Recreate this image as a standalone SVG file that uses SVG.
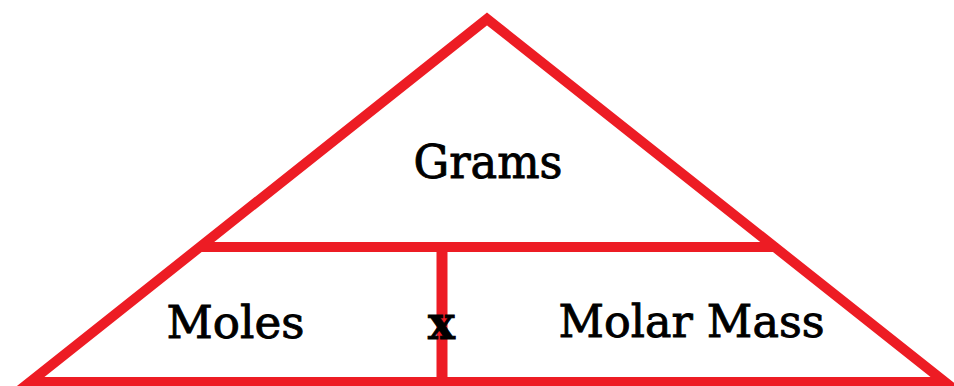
<svg xmlns="http://www.w3.org/2000/svg" width="954" height="386" viewBox="0 0 954 386">
<style>
.ln{stroke:#ED1C24;stroke-width:10;fill:none;stroke-linejoin:miter;stroke-miterlimit:20}
.t{font-family:"DejaVu Serif","Liberation Serif",serif;fill:#000;stroke:#000;stroke-width:0.9;text-anchor:middle}
</style>
<rect width="954" height="386" fill="#fff"/>
<g id="connectors">
<polygon class="ln" points="487,19 30,382 945,382"/>
<line class="ln" x1="200" y1="247" x2="775" y2="247"/>
<line class="ln" x1="442" y1="247" x2="442" y2="382" style="stroke-width:11"/>
</g>
<g id="grams"><text class="t" x="488" y="178" font-size="46" textLength="149" lengthAdjust="spacingAndGlyphs">Grams</text></g>
<g id="moles"><text class="t" x="235.5" y="338" font-size="45" textLength="138" lengthAdjust="spacingAndGlyphs">Moles</text></g>
<g id="times"><text class="t" x="441.5" y="339" font-size="46" font-weight="bold" textLength="27" lengthAdjust="spacingAndGlyphs">x</text></g>
<g id="molar-mass"><text class="t" x="691.5" y="337" font-size="45" textLength="266" lengthAdjust="spacingAndGlyphs">Molar Mass</text></g>
</svg>
